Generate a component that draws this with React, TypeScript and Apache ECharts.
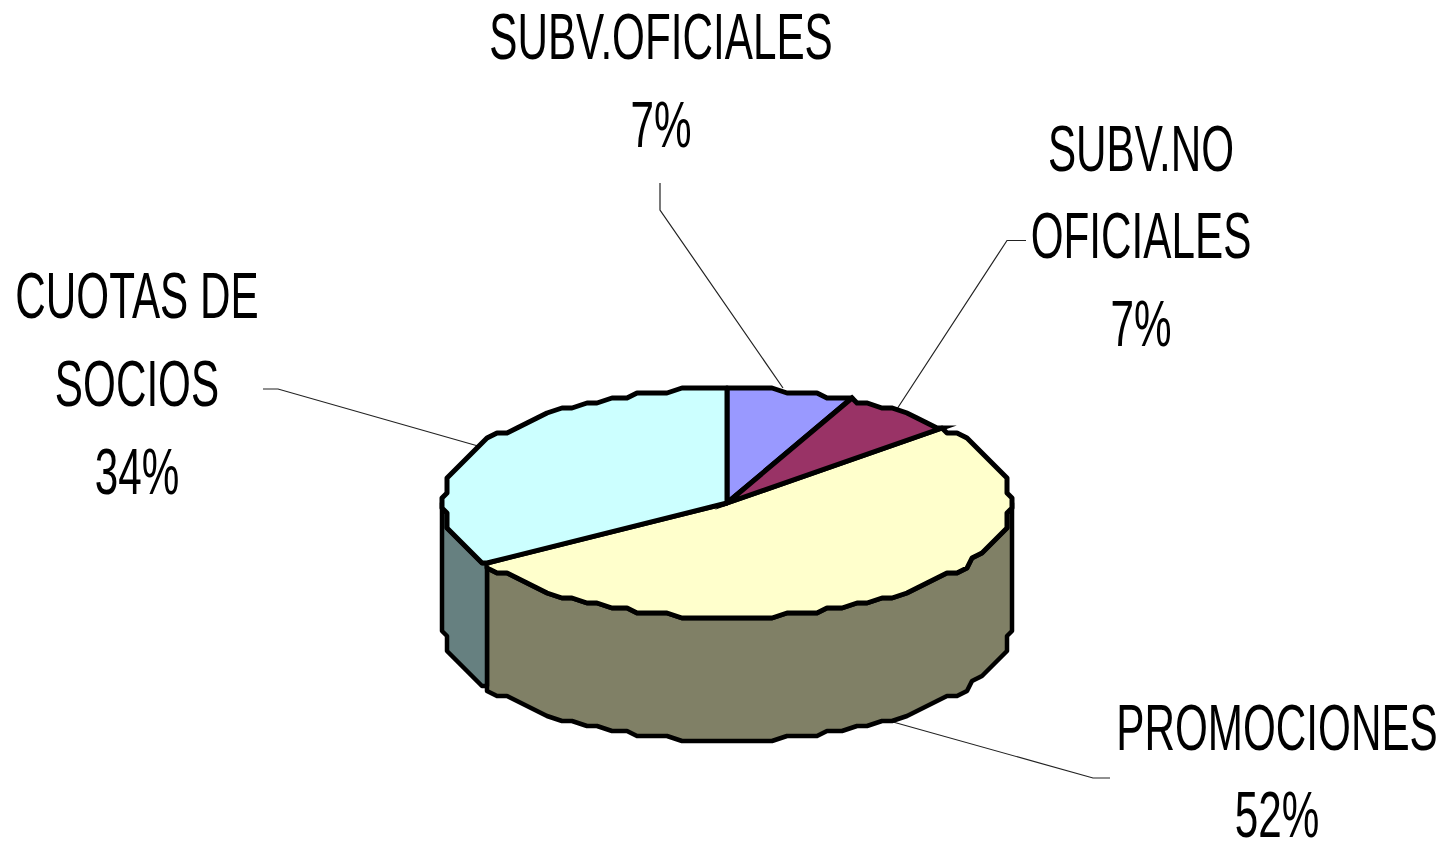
import React, { useEffect, useRef } from "react";
import * as echarts from "echarts";

const categories = ["SUBV.OFICIALES", "SUBV.NO OFICIALES", "PROMOCIONES", "CUOTAS DE SOCIOS"];
const values = [7.1, 6.6, 52.4, 33.9];
const topColors = ["#9999FF", "#993366", "#FFFFCC", "#CCFFFF"];
const sideColors = ["#4D4D80", "#4D1A33", "#808066", "#668080"];

const labelLines = [
  { cx: 661, lines: ["SUBV.OFICIALES", "7%"], baselines: [60, 148] },
  { cx: 1141, lines: ["SUBV.NO", "OFICIALES", "7%"], baselines: [172, 259, 347] },
  { cx: 137, lines: ["CUOTAS DE", "SOCIOS", "34%"], baselines: [319, 407, 495] },
  { cx: 1277, lines: ["PROMOCIONES", "52%"], baselines: [751, 838] },
];
const leaders = [
  [[660, 183], [660, 210], [783, 388]],
  [[1026, 240.5], [1007, 240.5], [897, 409]],
  [[263, 389], [278, 389], [478, 446]],
  [[1110, 778], [1093, 778], [893, 722]],
];

const CX = 727, CY = 503, RX = 284, RY = 115, DEPTH = 123, GRID = 5, STEP = 3;

function q(v: number) {
  return Math.round(v / GRID) * GRID;
}
function rim(deg: number): number[] {
  const r = (deg * Math.PI) / 180;
  return [CX + q(RX * Math.sin(r)), CY - q(RY * Math.cos(r))];
}
function arc(a0: number, a1: number): number[][] {
  const pts = [rim(a0)];
  let a = Math.ceil(a0 / STEP + 1e-6) * STEP;
  while (a < a1 - 1e-6) {
    pts.push(rim(a));
    a += STEP;
  }
  pts.push(rim(a1));
  return pts;
}
function sliceAngles(i: number): [number, number] {
  const total = values.reduce((s, v) => s + v, 0);
  const before = values.slice(0, i).reduce((s, v) => s + v, 0);
  return [(before / total) * 360, ((before + values[i]) / total) * 360];
}

function renderSide(params: any) {
  const [a0, a1] = sliceAngles(params.dataIndex);
  const s = Math.max(a0, 90), e = Math.min(a1, 270);
  if (s >= e) return { type: "group", children: [] };
  const top = arc(s, e);
  const bottom = top.map(([x, y]) => [x, y + DEPTH]).reverse();
  return {
    type: "polygon",
    shape: { points: [...top, ...bottom] },
    style: { fill: sideColors[params.dataIndex], stroke: "#000", lineWidth: 4.5, lineJoin: "round" },
  };
}
function renderTop(params: any) {
  const [a0, a1] = sliceAngles(params.dataIndex);
  const spiked = params.dataIndex === 1;
  return {
    type: "polygon",
    z2: spiked ? 5 : 1,
    shape: { points: [[CX, CY], ...arc(a0, a1)] },
    style: {
      fill: topColors[params.dataIndex],
      stroke: "#000",
      lineWidth: 5,
      lineJoin: spiked ? "miter" : "round",
      miterLimit: 8,
    },
  };
}

export default function App() {
  const ref = useRef<HTMLDivElement>(null);
  useEffect(() => {
    const chart = echarts.init(ref.current!, null, { renderer: "svg" });
    const data = values.map((v, i) => ({ name: categories[i], value: v }));
    const texts: any[] = [];
    labelLines.forEach((l) =>
      l.lines.forEach((t, i) =>
        texts.push({
          type: "text",
          x: l.cx,
          y: l.baselines[i] - 24,
          scaleX: 0.65,
          silent: true,
          style: {
            text: t,
            fill: "#000",
            font: '65px "Liberation Sans"',
            lineHeight: 50,
            align: "center",
            verticalAlign: "middle",
          },
        })
      )
    );
    const lines = leaders.map((pts) => ({
      type: "polyline",
      silent: true,
      shape: { points: pts },
      style: { stroke: "#222", lineWidth: 1.2, fill: "none" },
    }));
    chart.setOption({
      animation: false,
      backgroundColor: "#fff",
      graphic: { elements: [...lines, ...texts] },
      series: [
        { type: "custom", coordinateSystem: "none", silent: true, z: 2, renderItem: renderSide, data },
        { type: "custom", coordinateSystem: "none", silent: true, z: 3, renderItem: renderTop, data },
      ],
    });
    return () => chart.dispose();
  }, []);
  return <div ref={ref} style={{ position: "fixed", left: 0, top: 0, width: 1444, height: 843 }} />;
}
